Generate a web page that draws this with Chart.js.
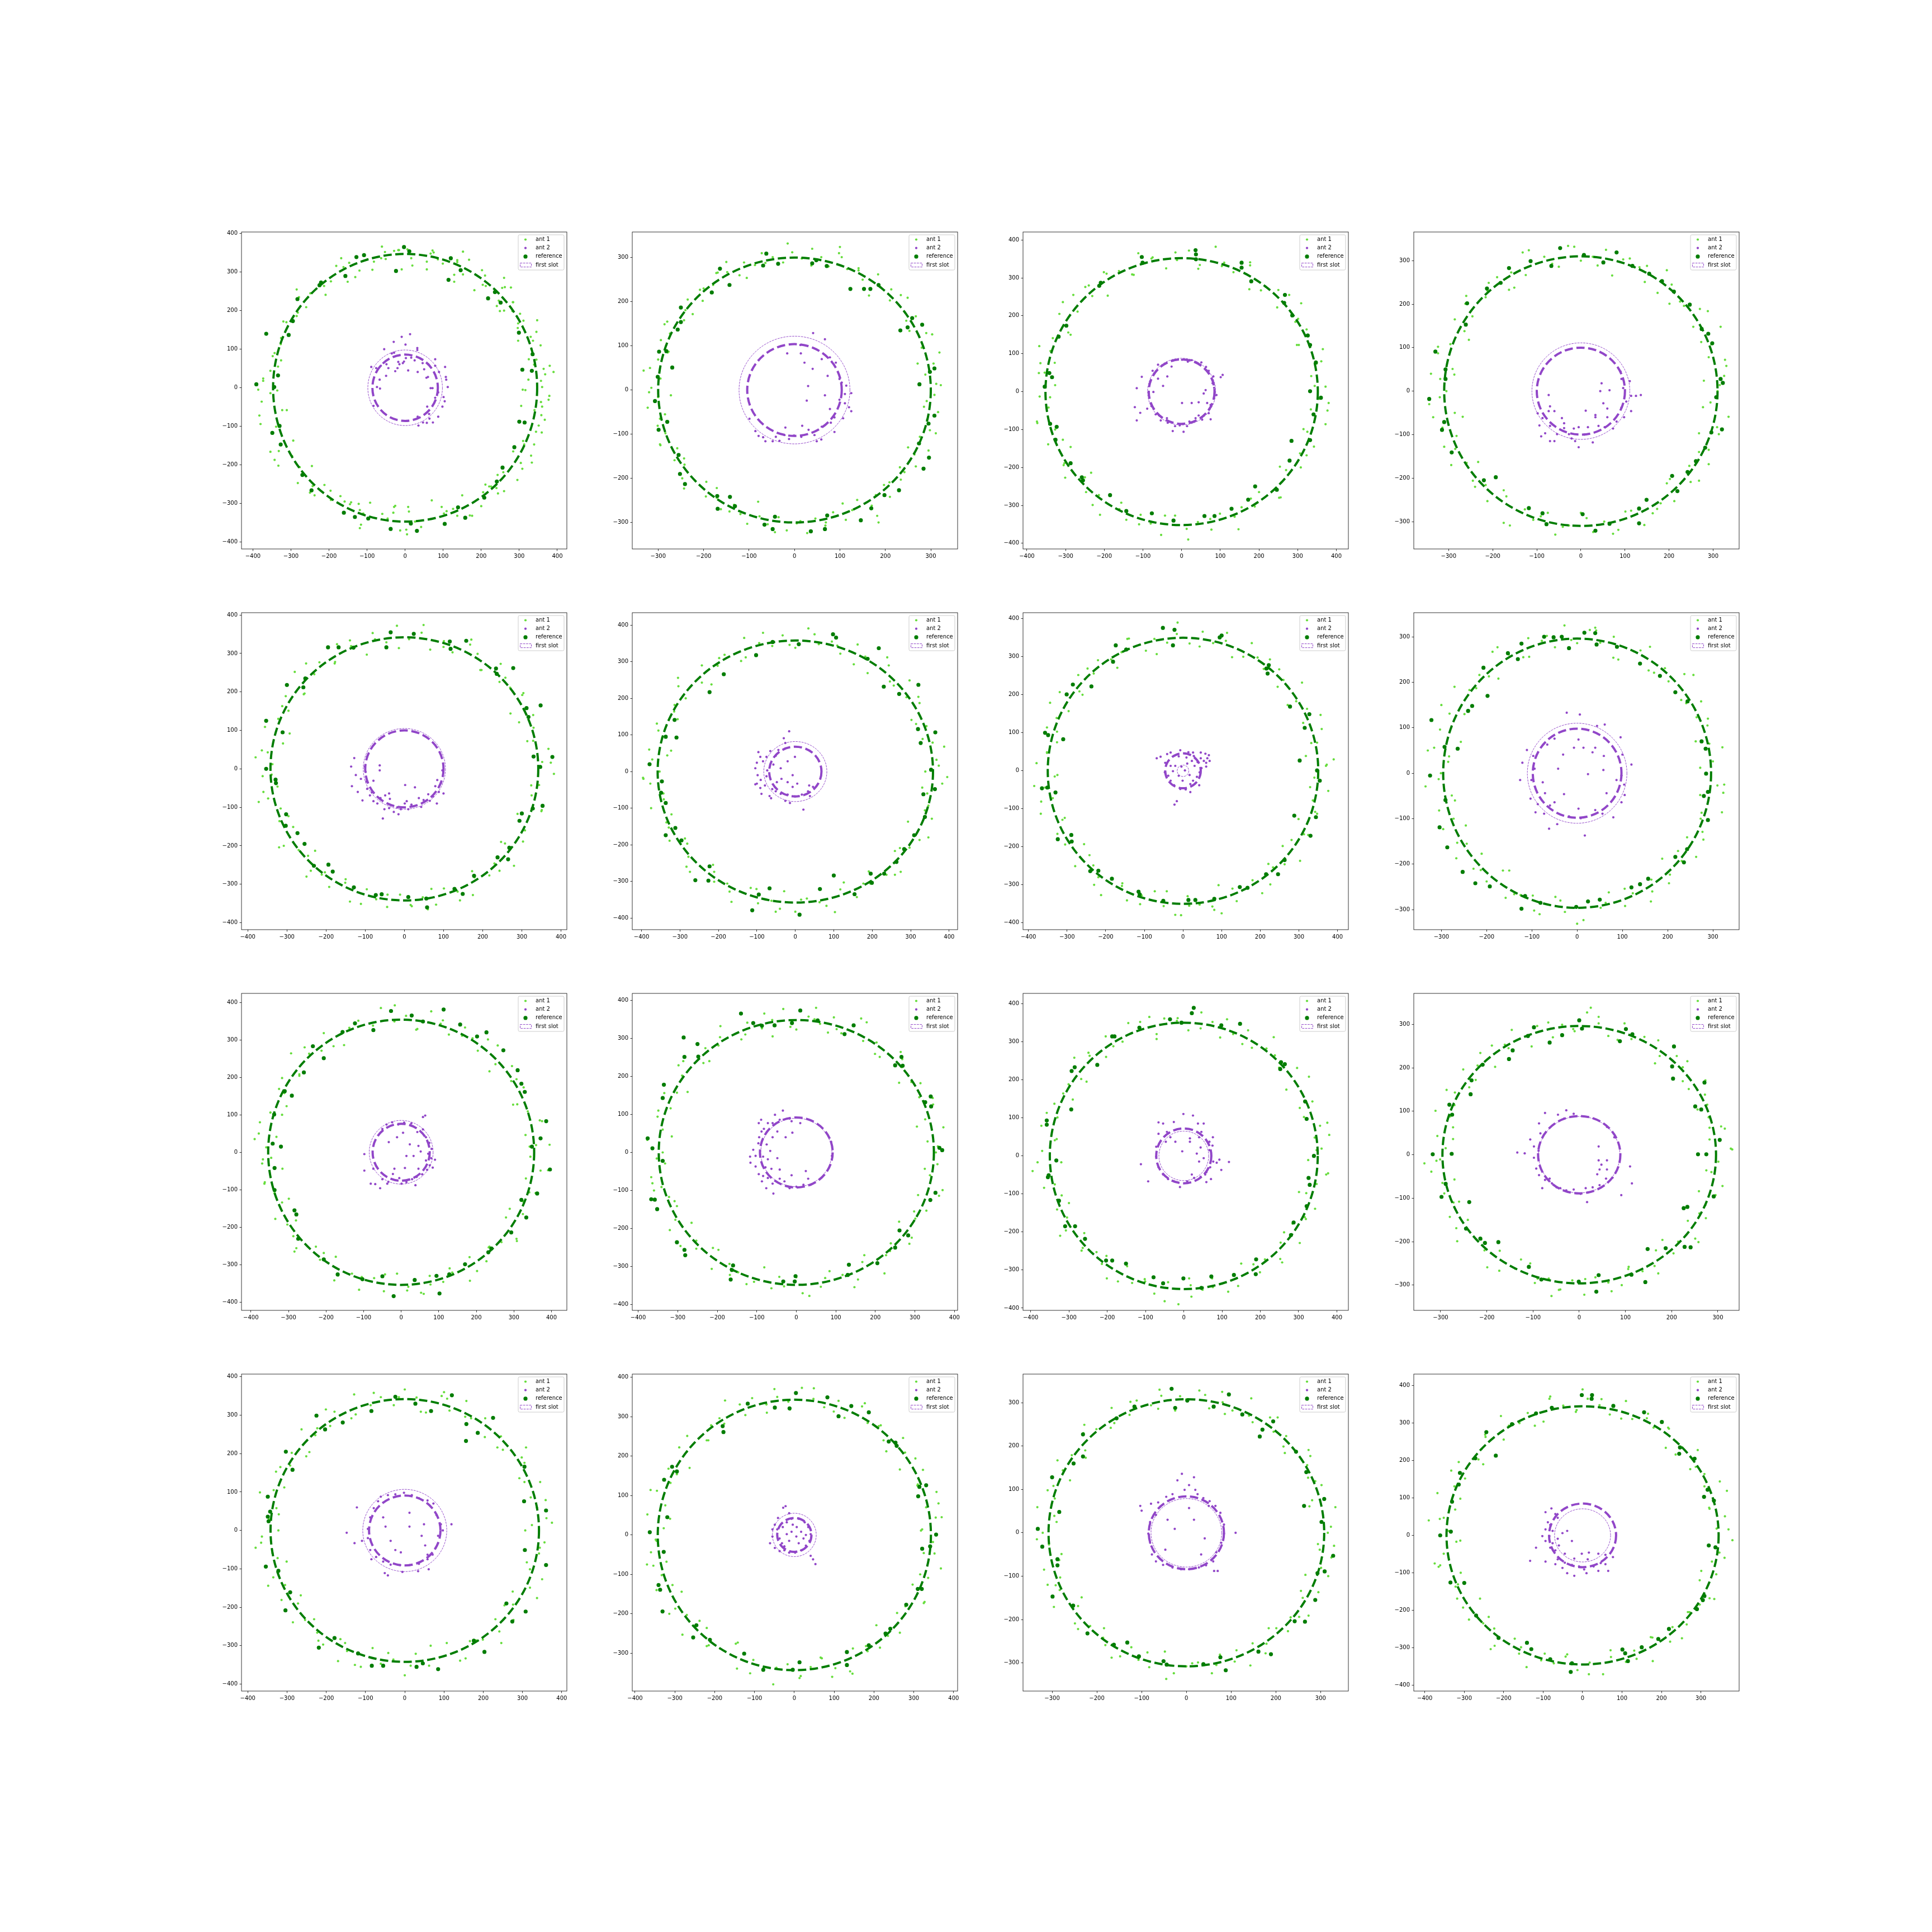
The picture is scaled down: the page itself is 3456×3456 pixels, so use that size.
<!DOCTYPE html>
<html><head><meta charset="utf-8">
<script src="https://cdn.jsdelivr.net/npm/chart.js@4.4.1/dist/chart.umd.min.js"></script>
<style>html,body{margin:0;padding:0;background:#fff}#fig{position:relative;width:3456px;height:3456px;background:#fff;overflow:hidden}canvas{position:absolute}</style>
</head><body><div id="fig"></div>
<script>
// ---------------- DATA ----------------
const seriesLabels = ['ant 1', 'ant 2', 'reference', 'first slot'];

// axis limits per subplot (row-major)
const xMin = [-430,-357,-410,-379,-416,-424,-414,-361,-425,-415,-420,-358,-416,-407,-365,-428];
const xMax = [425,359,431,359,415,422,428,358,441,408,430,346,413,410,362,397];
const yMin = [-418,-360,-415,-363,-418,-432,-418,-344,-422,-415,-406,-358,-418,-396,-365,-416];
const yMax = [404,358,421,366,406,434,416,353,424,418,427,371,407,408,366,431];
const tickStep = 100;

// fitted circles (centre at origin), radii per subplot
const bigR   = [347,300,352,310,342,358,350,296,354,348,350,296,342,343,308,345];
const innerR = [86,104,85,100,100,68,46,98,76,92,72,89,91,43,84,85];
const slotR  = [98,122,88,111,105,82,15,110,85,90,65,88,107,55,79,71];

// ---- subplot 1
const ant1_p1 = [[-61,366],[-16,357],[-29,355],[-53,352],[-63,336],[-51,334],[-82,327],[-99,333],[-86,306],[-120,304],[-131,287],[-147,324],[-162,313],[-151,275],[-168,336],[-181,316],[-195,276],[-213,264],[-209,241],[-285,255],[-279,235],[-249,245],[-260,209],[-282,195],[-285,186],[-320,172],[-312,170],[-326,129],[-327,113],[-348,82],[-343,90],[-334,55],[-326,71],[-354,44],[-373,24],[-373,18],[-386,-5],[-377,-36],[-383,-72],[-380,-94],[-354,-14],[-336,-7],[-323,-58],[-311,-58],[-339,-101],[-354,-166],[-343,-187],[-333,-202],[-332,-164],[-294,-137],[-297,-177],[-277,-206],[-282,-247],[-245,-203],[-243,-255],[-238,-279],[-250,-272],[-212,-252],[-196,-267],[-195,-291],[-170,-281],[-159,-295],[-142,-297],[-145,-302],[-122,-301],[-119,-317],[-110,-326],[-119,-364],[-116,-355],[-92,-298],[-60,-327],[-46,-339],[-31,-324],[-29,-309],[-26,-306],[-13,-370],[3,-368],[5,-380],[8,-309],[10,-321],[26,-347],[42,-361],[70,-292],[96,-309],[102,-326],[109,-320],[126,-314],[137,-332],[150,-279],[176,-332],[170,-331],[205,-271],[200,-307],[211,-251],[221,-256],[226,-256],[240,-260],[244,-274],[260,-268],[243,-226],[258,-219],[284,-165],[295,-239],[304,-195],[308,-210],[310,-138],[313,-147],[331,-176],[333,-194],[339,-147],[344,-114],[359,-116],[351,-98],[358,-71],[360,-49],[357,-37],[377,-31],[379,-21],[367,-83],[340,-58],[309,-5],[316,-6],[305,-47],[360,2],[357,18],[390,41],[380,57],[368,35],[364,49],[339,60],[345,73],[324,21],[332,100],[325,74],[336,122],[356,110],[345,145],[347,175],[330,132],[297,122],[296,155],[297,167],[311,174],[302,192],[282,199],[283,222],[260,200],[249,199],[241,212],[262,261],[260,285],[255,259],[246,226],[278,260],[284,222],[182,253],[204,267],[202,305],[210,291],[212,264],[168,332],[152,353],[137,331],[137,326],[152,294],[129,293],[129,275],[99,322],[86,333],[72,356],[75,351],[67,348],[57,327],[57,307],[19,317],[16,336],[-9,307],[-18,357],[6,359]];
const ant2_p1 = [[13,139],[-9,132],[-30,119],[1,112],[-55,100],[32,103],[32,98],[-29,91],[-35,89],[-49,61],[-64,57],[-89,54],[-76,51],[-44,51],[-26,43],[-15,61],[-6,64],[2,77],[16,78],[25,71],[8,45],[33,41],[50,48],[46,64],[61,61],[79,74],[79,57],[89,41],[105,54],[56,26],[60,28],[107,28],[108,21],[112,2],[67,-1],[72,-1],[87,-12],[101,-24],[104,-35],[98,-49],[79,-26],[58,-49],[63,-68],[87,-75],[64,-80],[73,-90],[57,-91],[47,-90],[35,-98],[33,-75],[-83,-47],[-66,-2],[-74,2],[-67,21],[-50,31],[-18,67],[-20,51],[-3,68]];
const ref_p1 = [[-3,365],[11,354],[-24,303],[-108,344],[-128,339],[120,336],[114,280],[146,305],[-157,290],[-221,273],[-283,230],[-295,173],[-306,137],[-365,140],[-334,32],[-344,2],[-391,9],[-349,-117],[-330,-99],[-327,-147],[-270,-226],[-246,-266],[-161,-324],[-132,-335],[-97,-339],[-38,-366],[15,-352],[31,-371],[104,-353],[158,-337],[139,-310],[208,-285],[241,-243],[256,-207],[287,-154],[300,-88],[314,-90],[333,44],[308,47],[299,143],[335,87],[236,248],[251,221],[218,232],[-225,266]];

// ---- subplot 2
const ant1_p2 = [[322,11],[288,35],[306,60],[319,85],[280,96],[290,129],[253,134],[267,167],[243,176],[249,209],[210,203],[213,228],[189,233],[184,262],[150,250],[141,276],[116,274],[104,301],[75,280],[59,301],[39,320],[16,298],[-5,312],[-25,289],[-48,301],[-72,310],[-87,283],[-111,289],[-121,260],[-148,267],[-172,265],[-179,238],[-200,230],[-202,202],[-235,205],[-240,181],[-243,158],[-280,155],[-274,128],[-294,113],[-279,85],[-300,69],[-318,50],[-295,26],[-315,5],[-300,-16],[-323,-40],[-285,-55],[-301,-81],[-284,-98],[-295,-125],[-258,-132],[-264,-159],[-242,-169],[-247,-200],[-219,-205],[-194,-208],[-195,-241],[-171,-244],[-162,-270],[-133,-260],[-119,-281],[-104,-303],[-77,-286],[-59,-304],[-35,-288],[-17,-318],[5,-302],[28,-324],[46,-291],[69,-300],[85,-277],[113,-294],[127,-272],[138,-249],[170,-262],[179,-238],[210,-242],[209,-209],[234,-203],[232,-175],[267,-173],[264,-146],[295,-137],[276,-106],[298,-91],[292,-67],[316,-50],[291,-25],[308,-11],[100,324],[-150,290],[-320,-5],[185,-300],
  [312,14],[271,60],[303,126],[246,157],[234,215],[164,214],[141,271],[98,310],[37,282],[-15,332],[-64,288],[-105,254],[-169,266],[-208,227],[-224,172],[-286,149],[-277,87],[-332,44],[-272,-12],[-296,-65],[-296,-123],[-243,-155],[-243,-223],[-171,-222],[-143,-275],[-80,-253],[-43,-322],[13,-297],[68,-307],[106,-257],[182,-285],[197,-215],[242,-186],[250,-130],[311,-98],[285,-38]];
const ant2_p2 = [[41,129],[13,102],[14,83],[-16,83],[22,62],[40,48],[67,115],[60,70],[78,74],[91,62],[99,25],[104,17],[114,10],[125,-7],[111,-9],[99,-22],[111,-30],[120,-39],[125,-48],[107,-64],[88,-62],[80,-74],[60,-83],[59,-112],[44,-102],[31,-90],[15,-106],[-1,-103],[-12,-111],[-22,-102],[-33,-115],[-48,-116],[-69,-107],[-79,-104],[-86,-93],[-99,-65],[-20,-85],[17,-81],[78,-43],[67,-12],[73,32],[27,-24],[30,9],[88,-95],[49,-116],[-64,-116],[-41,-106]];
const ref_p2 = [[-62,309],[-69,282],[-36,286],[-164,275],[-143,238],[-182,221],[39,287],[48,294],[71,281],[123,229],[153,229],[167,229],[185,238],[259,163],[249,142],[233,135],[281,148],[298,41],[308,49],[275,13],[308,-58],[295,-76],[274,-121],[296,-153],[284,-178],[230,-227],[198,-238],[169,-268],[146,-295],[72,-284],[67,-315],[36,-320],[-43,-287],[-48,-315],[-66,-305],[-131,-263],[-142,-242],[-170,-240],[-169,-269],[-241,-213],[-252,-190],[-255,-147],[-280,-72],[-299,-90],[-301,30],[-307,-25],[-282,88],[-269,51],[-257,137],[-250,154],[-250,187],[-298,87]];

// ---- subplot 3
const ant1_p3 = [[372,13],[335,41],[349,74],[365,112],[303,123],[323,164],[294,184],[309,233],[247,222],[250,268],[217,277],[175,270],[177,333],[134,315],[110,340],[88,382],[47,334],[19,372],[-12,347],[-40,325],[-75,354],[-112,365],[-124,308],[-162,318],[-194,311],[-191,253],[-249,276],[-257,240],[-269,211],[-316,205],[-293,156],[-333,141],[-368,120],[-328,76],[-354,50],[-327,17],[-367,-13],[-344,-42],[-374,-79],[-327,-100],[-345,-139],[-287,-146],[-303,-189],[-301,-227],[-250,-226],[-247,-265],[-214,-273],[-211,-325],[-156,-293],[-143,-338],[-106,-325],[-80,-348],[-53,-378],[-17,-327],[13,-362],[42,-344],[77,-364],[99,-322],[147,-363],[155,-305],[189,-303],[200,-265],[252,-280],[257,-240],[254,-198],[308,-200],[306,-163],[342,-145],[325,-106],[372,-86],[334,-47],[357,-19],[-280,255],[-240,280],[-365,75],[380,-30],
  [344,15],[361,80],[298,123],[301,192],[278,255],[205,267],[177,341],[104,331],[43,324],[-16,367],[-78,351],[-128,309],[-201,315],[-231,252],[-307,236],[-287,150],[-339,107],[-369,49],[-340,-15],[-373,-83],[-307,-127],[-305,-194],[-234,-214],[-230,-299],[-161,-310],[-110,-350],[-43,-327],[17,-390],[74,-336],[137,-330],[179,-282],[256,-279],[270,-207],[323,-168],[315,-99],[377,-50]];
const ant2_p3 = [[-103,39],[-116,9],[-121,-41],[-107,-56],[-116,-76],[-89,-45],[-61,34],[-37,40],[-26,66],[16,79],[38,77],[63,65],[82,40],[84,10],[90,-9],[75,-35],[70,-57],[53,-74],[36,-70],[20,-79],[-5,-89],[-17,-91],[-36,-82],[-54,-76],[-67,-60],[-78,-38],[-73,-1],[-48,15],[1,-30],[26,-30],[44,-28],[57,-5],[66,-30],[101,38],[106,44],[5,-106],[-23,-104],[14,-91],[75,-73],[44,-63],[-38,-70],[62,4],[-23,82],[1,84],[26,83],[51,77],[-61,71],[-75,55],[70,55],[80,22]];
const ref_p3 = [[-103,355],[-101,340],[36,373],[37,362],[37,349],[155,340],[155,327],[180,291],[267,255],[265,234],[286,201],[326,148],[332,123],[347,77],[332,1],[360,-16],[341,-60],[332,-128],[284,-130],[279,-182],[246,-259],[190,-250],[172,-285],[129,-309],[85,-328],[59,-328],[-21,-340],[-77,-321],[-143,-315],[-185,-273],[-255,-234],[-258,-226],[-287,-189],[-326,-127],[-323,-93],[-340,-85],[-354,13],[-335,38],[-342,49],[-318,145],[-298,174],[-209,287],[-213,279]];

// ---- subplot 4
const ant1_p4 = [[310,0],[279,24],[330,58],[290,78],[296,108],[317,148],[255,148],[270,189],[234,196],[201,201],[206,245],[195,278],[145,251],[133,285],[111,305],[71,266],[57,325],[27,309],[0,300],[-29,334],[-50,286],[-83,309],[-118,324],[-125,267],[-158,273],[-163,233],[-209,249],[-216,216],[-260,219],[-246,172],[-286,165],[-254,118],[-296,108],[-324,87],[-291,51],[-319,28],[-305,0],[-344,-30],[-286,-50],[-314,-84],[-282,-103],[-285,-133],[-294,-170],[-233,-163],[-245,-206],[-216,-216],[-212,-253],[-169,-242],[-175,-303],[-127,-272],[-108,-296],[-75,-280],[-58,-330],[-27,-309],[0,-280],[28,-324],[53,-300],[85,-319],[101,-277],[144,-308],[163,-281],[181,-258],[212,-253],[202,-202],[249,-209],[246,-172],[290,-168],[290,-135],[268,-97],[309,-83],[335,-59],[294,-26],[-340,40],[-335,-60],[325,35],[-190,262],
  [315,14],[327,72],[273,113],[288,184],[225,206],[174,226],[150,288],[96,303],[38,289],[-15,332],[-65,293],[-132,319],[-151,238],[-212,231],[-262,201],[-264,138],[-324,102],[-287,38],[-320,-14],[-268,-59],[-310,-128],[-259,-165],[-240,-220],[-175,-228],[-161,-309],[-91,-288],[-41,-312],[13,-292],[73,-328],[114,-275],[173,-271],[195,-212],[268,-206],[268,-140],[313,-99],[277,-37]];
const ant2_p4 = [[44,0],[47,18],[90,45],[92,28],[96,7],[111,23],[114,-11],[125,-11],[136,-9],[103,-24],[92,-38],[114,-46],[98,-60],[81,-70],[60,-60],[51,-28],[60,-40],[65,2],[33,-55],[40,-80],[16,-83],[8,-100],[-13,-115],[-5,-129],[-27,-99],[-38,-85],[-54,-99],[-60,-115],[-70,-115],[-81,-97],[-90,-104],[-94,-79],[-70,-80],[-87,-62],[-98,-51],[-70,-35],[-73,-9],[-60,-46],[-43,-62],[-38,-74],[-16,-86],[33,-60],[27,-118],[54,-83],[73,-86],[-5,-83],[-21,-109],[11,-45],[-73,-46]];
const ref_p4 = [[-47,329],[-67,288],[7,313],[51,296],[81,319],[117,288],[155,270],[184,253],[211,229],[247,199],[274,143],[289,132],[298,110],[317,28],[322,19],[307,-14],[320,-88],[296,-95],[282,-130],[261,-161],[242,-186],[219,-230],[207,-195],[149,-250],[132,-270],[132,-304],[65,-305],[33,-321],[4,-283],[-78,-306],[-87,-281],[-118,-269],[-193,-198],[-220,-205],[-293,-141],[-315,-89],[-310,-71],[-344,-18],[-307,28],[-307,50],[-330,91],[-261,153],[-258,202],[-213,236],[-182,249],[-163,283],[-114,299]];

// ---- subplot 5
const ant1_p5 = [[352,18],[368,52],[314,72],[330,107],[329,140],[271,144],[304,197],[270,211],[243,226],[246,273],[194,257],[187,299],[171,336],[123,303],[101,332],[66,310],[44,354],[12,337],[-19,372],[-46,329],[-81,353],[-96,297],[-136,319],[-172,324],[-178,274],[-217,277],[-230,246],[-280,252],[-257,194],[-303,189],[-296,151],[-322,130],[-356,109],[-310,66],[-349,43],[-337,12],[-362,-19],[-324,-46],[-372,-86],[-316,-103],[-319,-136],[-284,-151],[-308,-200],[-270,-211],[-228,-213],[-239,-265],[-203,-269],[-192,-307],[-151,-296],[-139,-345],[-96,-313],[-72,-339],[-44,-359],[-11,-327],[19,-357],[47,-334],[81,-353],[101,-311],[136,-319],[175,-328],[173,-266],[217,-277],[230,-246],[280,-252],[257,-194],[303,-189],[305,-155],[289,-117],[351,-107],[325,-69],[344,-42],[382,-13],[-380,30],[-360,-60],[-250,-280],[60,-365],
  [374,16],[329,73],[293,121],[301,192],[258,237],[197,257],[168,323],[100,317],[49,374],[-14,314],[-75,337],[-139,334],[-177,278],[-251,274],[-255,196],[-312,163],[-293,92],[-364,48],[-339,-15],[-348,-77],[-296,-123],[-320,-204],[-246,-226],[-211,-275],[-150,-287],[-111,-351],[-43,-327],[16,-354],[69,-312],[142,-342],[179,-282],[243,-265],[247,-190],[308,-160],[350,-110],[324,-43]];
const ant2_p5 = [[-128,28],[-136,6],[-124,-16],[-134,-45],[-119,-60],[-111,-26],[-97,-33],[-101,6],[-95,-52],[-88,-69],[-83,-61],[-69,-90],[-61,-76],[-49,-69],[-37,-78],[-39,-102],[-51,-105],[-55,-129],[-27,-112],[-18,-100],[-9,-105],[1,-90],[10,-105],[18,-93],[27,-48],[37,-76],[49,-81],[61,-66],[73,-72],[79,-45],[88,-60],[94,-36],[84,-29],[97,-4],[100,-64],[83,-90],[65,-83],[-63,9],[-63,-4],[2,-42],[-79,-31],[-39,-64],[-15,-118],[6,-84],[43,-99],[-95,32],[-99,-8],[-79,-84],[-107,-82]];
const ref_p5 = [[-35,355],[-46,316],[24,351],[116,331],[118,312],[158,333],[234,261],[236,247],[278,262],[312,158],[317,135],[348,165],[330,32],[347,5],[378,31],[353,-96],[328,-103],[300,-116],[294,-135],[268,-205],[265,-235],[238,-230],[178,-278],[149,-325],[128,-312],[56,-337],[58,-360],[10,-333],[-58,-326],[-73,-328],[-129,-308],[-183,-267],[-194,-249],[-231,-252],[-255,-195],[-273,-167],[-303,-148],[-302,-118],[-328,-37],[-329,-28],[-353,0],[-311,95],[-353,125],[-300,218],[-258,212],[-253,235],[-195,316],[-168,316],[-130,315]];

// ---- subplot 6
const ant1_p6 = [[338,0],[367,32],[387,68],[331,89],[341,124],[302,141],[323,187],[289,203],[297,249],[246,246],[243,290],[188,269],[182,314],[162,347],[117,322],[95,355],[61,348],[34,391],[0,338],[-33,372],[-60,343],[-94,351],[-133,365],[-141,302],[-184,319],[-202,289],[-243,290],[-243,243],[-305,256],[-285,200],[-314,182],[-306,143],[-360,131],[-346,93],[-323,57],[-372,33],[-353,0],[-377,-33],[-343,-60],[-375,-100],[-322,-117],[-329,-153],[-327,-189],[-281,-197],[-278,-233],[-274,-274],[-214,-255],[-211,-301],[-177,-306],[-166,-356],[-116,-318],[-97,-360],[-62,-353],[-29,-327],[0,-383],[30,-347],[63,-357],[103,-384],[117,-322],[160,-343],[177,-306],[191,-273],[237,-282],[274,-274],[259,-217],[297,-208],[323,-187],[293,-137],[355,-129],[346,-93],[343,-60],[382,-33],[-395,-20],[-380,60],[395,-15],[-40,-375],
  [373,16],[357,79],[314,130],[320,204],[256,235],[239,312],[152,293],[109,344],[50,375],[-15,346],[-84,379],[-129,312],[-198,310],[-218,238],[-304,233],[-315,164],[-356,112],[-333,44],[-396,-17],[-342,-76],[-335,-139],[-287,-183],[-283,-260],[-211,-274],[-171,-328],[-101,-321],[-51,-383],[15,-350],[81,-367],[126,-303],[195,-306],[259,-282],[272,-209],[346,-180],[337,-106],[330,-44]];
const ant2_p6 = [[-96,53],[-91,40],[-84,28],[-100,24],[-104,9],[-98,-10],[-100,-33],[-91,-45],[-88,-61],[-79,-38],[-75,-13],[-65,56],[-44,59],[-26,78],[-16,110],[-30,91],[-60,-48],[-51,-54],[-38,-61],[-20,-63],[-1,-68],[17,-63],[33,-54],[46,-42],[21,-104],[-14,-86],[-26,-80],[-67,-67],[-48,-29],[-36,-20],[-20,-29],[-7,-42],[5,-33],[-57,19],[-51,43],[-20,28],[-1,40],[-75,40],[-104,-35],[-63,-73],[38,-67],[36,-38],[-7,-10],[-38,9],[-90,-23],[-73,3]];
const ref_p6 = [[9,348],[98,375],[106,366],[217,337],[188,308],[230,232],[320,237],[270,212],[319,116],[326,78],[364,107],[353,5],[363,-48],[333,-62],[337,-124],[309,-174],[283,-212],[263,-247],[231,-279],[199,-304],[196,-279],[154,-335],[100,-284],[64,-321],[11,-391],[-67,-319],[-95,-336],[-112,-379],[-223,-259],[-226,-298],[-260,-297],[-296,-188],[-312,-154],[-337,-174],[-337,-86],[-349,-58],[-347,-27],[-379,20],[-337,95],[-309,93],[-314,141],[-223,217],[-186,266],[-102,318],[-59,354]];

// ---- subplot 7
const ant1_p7 = [[370,13],[318,39],[347,74],[359,110],[311,126],[321,163],[293,183],[308,232],[245,221],[249,267],[209,268],[193,298],[178,336],[127,299],[111,342],[78,336],[51,366],[17,335],[-14,390],[-41,337],[-74,347],[-96,316],[-140,348],[-159,312],[-170,271],[-220,291],[-231,256],[-271,252],[-268,209],[-319,207],[-296,157],[-327,139],[-352,114],[-326,75],[-352,49],[-379,20],[-325,-11],[-357,-44],[-337,-72],[-368,-113],[-306,-124],[-325,-166],[-297,-185],[-256,-193],[-279,-251],[-232,-249],[-219,-280],[-212,-327],[-157,-296],[-145,-341],[-107,-328],[-73,-317],[-50,-356],[-20,-379],[12,-330],[43,-352],[76,-357],[92,-301],[139,-343],[159,-312],[180,-288],[226,-299],[221,-245],[263,-246],[303,-237],[281,-182],[313,-167],[299,-127],[347,-113],[336,-78],[376,-53],[340,-18],[390,30],[-385,-40],[100,-375],[-5,-380],
  [372,16],[332,73],[356,147],[271,173],[260,239],[225,293],[156,300],[114,363],[43,327],[-16,360],[-68,307],[-144,347],[-186,293],[-247,269],[-260,200],[-344,179],[-326,103],[-352,47],[-332,-15],[-367,-81],[-312,-129],[-305,-194],[-242,-222],[-230,-300],[-158,-303],[-111,-351],[-42,-317],[16,-355],[81,-366],[128,-310],[205,-322],[233,-254],[258,-198],[324,-169],[342,-108],[329,-43]];
const ant2_p7 = [[-68,33],[-58,37],[-41,44],[-32,48],[-7,54],[14,49],[26,48],[46,48],[58,45],[67,41],[63,33],[54,26],[60,11],[48,7],[38,23],[23,26],[11,19],[-4,11],[-20,13],[-32,13],[-46,21],[-47,-4],[-38,-13],[-32,-26],[-23,-38],[-7,-48],[7,-49],[19,-35],[26,-26],[36,-16],[43,-4],[17,-11],[-11,-13],[5,1],[-16,-80],[-22,-89],[46,33],[28,39],[9,35],[-11,38],[30,13],[42,-38],[-26,-1],[-1,-26],[19,-56],[60,21],[69,26]];
const ref_p7 = [[-52,376],[-22,371],[-26,330],[95,351],[100,356],[216,269],[219,256],[222,278],[277,169],[315,113],[327,149],[302,27],[354,-26],[347,1],[344,-122],[288,-118],[330,-171],[263,-235],[246,-272],[215,-272],[167,-308],[147,-306],[81,-337],[32,-340],[14,-340],[-51,-342],[-112,-325],[-115,-318],[-184,-284],[-219,-263],[-240,-264],[-288,-186],[-289,-169],[-324,-180],[-330,-57],[-351,-44],[-365,-46],[-349,94],[-357,100],[-310,83],[-301,201],[-285,227],[-237,222],[-181,287],[-174,330],[-147,319]];

// ---- subplot 8
const ant1_p8 = [[286,0],[300,26],[321,57],[262,70],[288,105],[264,123],[274,158],[230,161],[257,216],[202,202],[194,231],[158,226],[161,278],[125,268],[91,250],[81,300],[51,287],[28,315],[0,286],[-28,325],[-49,277],[-78,291],[-108,297],[-119,255],[-151,261],[-187,267],[-174,208],[-216,216],[-223,187],[-271,190],[-239,138],[-282,131],[-278,101],[-257,69],[-316,56],[-285,25],[-301,0],[-335,-29],[-277,-49],[-305,-82],[-273,-100],[-246,-115],[-265,-153],[-267,-187],[-211,-177],[-213,-213],[-200,-238],[-150,-214],[-158,-274],[-125,-268],[-98,-269],[-83,-310],[-48,-272],[-27,-305],[0,-331],[24,-280],[52,-296],[70,-262],[106,-292],[123,-264],[163,-282],[164,-234],[203,-242],[188,-188],[231,-193],[263,-184],[243,-141],[277,-129],[273,-100],[320,-86],[272,-48],[310,-27],[-330,50],[-300,150],[325,-25],[40,320],
  [272,12],[292,65],[289,120],[241,154],[237,218],[170,221],[140,270],[80,254],[42,314],[-13,293],[-67,302],[-106,256],[-176,277],[-195,213],[-238,183],[-249,130],[-303,96],[-283,37],[-306,-13],[-270,-60],[-296,-123],[-244,-155],[-229,-210],[-164,-214],[-139,-266],[-95,-302],[-37,-280],[14,-323],[63,-285],[105,-254],[166,-260],[205,-223],[223,-171],[279,-146],[275,-87],[323,-43]];
const ant2_p8 = [[-23,133],[6,129],[44,104],[61,107],[96,79],[120,19],[100,41],[104,-25],[87,-15],[58,7],[59,38],[34,46],[14,56],[3,74],[-31,41],[-42,10],[-50,76],[-66,63],[-111,51],[-121,23],[-126,-15],[-101,-15],[-94,10],[-103,-56],[-92,-86],[-73,-89],[-60,-71],[-62,-122],[-44,-112],[-18,-95],[3,-78],[8,-99],[17,-137],[40,-81],[56,-89],[80,-97],[98,-64],[105,-48],[98,-5],[-29,-46],[-50,-64],[-76,-20],[-71,-44],[-87,-68],[40,56],[-7,56],[-97,38],[24,-2],[65,-44]];
const ref_p8 = [[-52,299],[-34,300],[16,309],[40,308],[-18,275],[43,283],[88,278],[139,241],[183,214],[217,178],[244,158],[275,70],[284,54],[285,-1],[289,-41],[280,-50],[289,-103],[243,-167],[236,-196],[217,-184],[157,-232],[139,-244],[120,-251],[50,-278],[24,-282],[-2,-294],[-81,-285],[-123,-298],[-115,-270],[-193,-249],[-225,-242],[-253,-217],[-287,-163],[-304,-119],[-291,-59],[-325,-5],[-293,58],[-322,117],[-264,54],[-241,137],[-232,148],[-198,170],[-207,232],[-131,251],[-153,264],[-123,285],[-73,300]];

// ---- subplot 9
const ant1_p9 = [[359,19],[331,46],[369,85],[337,109],[298,127],[326,173],[293,190],[295,230],[251,235],[257,285],[204,271],[190,304],[170,333],[127,314],[105,343],[80,376],[40,327],[13,364],[-18,349],[-54,385],[-75,325],[-114,351],[-138,326],[-152,286],[-206,318],[-212,271],[-245,263],[-293,264],[-271,204],[-317,198],[-311,158],[-305,123],[-348,106],[-376,80],[-332,41],[-359,13],[-368,-19],[-316,-44],[-364,-84],[-337,-109],[-317,-134],[-335,-178],[-280,-182],[-287,-224],[-284,-265],[-227,-252],[-216,-287],[-174,-279],[-168,-329],[-131,-324],[-112,-367],[-72,-336],[-46,-371],[-11,-324],[19,-359],[53,-375],[76,-330],[112,-346],[136,-321],[183,-343],[182,-280],[227,-291],[235,-252],[267,-240],[307,-231],[279,-174],[324,-165],[324,-131],[358,-109],[332,-70],[391,-48],[344,-12],[-390,35],[-370,-30],[395,20],[60,-378],
  [342,15],[375,83],[309,128],[307,195],[235,216],[231,301],[162,311],[111,352],[43,329],[-17,392],[-75,338],[-138,332],[-180,283],[-257,280],[-271,208],[-325,169],[-317,100],[-379,50],[-346,-15],[-363,-80],[-299,-124],[-303,-193],[-279,-256],[-206,-269],[-178,-342],[-105,-333],[-43,-326],[16,-369],[78,-353],[129,-310],[202,-317],[233,-254],[308,-237],[289,-151],[341,-107],[371,-49]];
const ant2_p9 = [[-50,62],[-39,74],[-24,80],[-8,74],[8,79],[27,77],[43,54],[58,61],[66,40],[75,25],[81,9],[72,-4],[80,-16],[66,-22],[76,-35],[69,-47],[56,-59],[41,-66],[29,-72],[14,-80],[-5,-69],[-22,-58],[-37,-84],[-56,-96],[-69,-85],[-81,-84],[-98,-5],[-98,-49],[-50,-72],[-18,-44],[10,-42],[14,-10],[33,-10],[23,21],[46,17],[52,2],[58,94],[64,98],[5,52],[-11,40],[-33,27],[-74,-44],[-34,-79],[1,-84],[38,-88],[46,-44],[90,-20],[84,-41]];
const ref_p9 = [[-27,377],[28,365],[113,381],[58,349],[157,341],[-74,326],[-156,321],[-123,344],[227,320],[202,309],[272,272],[310,219],[320,183],[329,161],[386,83],[371,37],[348,15],[396,-46],[362,-110],[320,-127],[333,-174],[293,-214],[240,-257],[232,-267],[170,-299],[128,-326],[94,-330],[102,-377],[36,-341],[-20,-384],[-50,-331],[-103,-339],[-169,-326],[-206,-286],[-274,-231],[-279,-166],[-284,-155],[-337,-101],[-337,-42],[-342,23],[-320,15],[-338,101],[-291,151],[-310,163],[-259,213],[-235,283],[-206,251]];

// ---- subplot 10
const ant1_p10 = [[353,0],[332,29],[372,66],[326,87],[346,126],[311,145],[314,182],[260,183],[267,224],[264,264],[211,251],[203,289],[169,293],[164,352],[114,313],[95,355],[60,338],[31,357],[0,323],[-33,377],[-61,348],[-87,326],[-124,341],[-139,297],[-192,332],[-197,281],[-230,274],[-235,235],[-286,240],[-289,202],[-275,159],[-334,156],[-318,116],[-351,94],[-338,60],[-377,33],[-338,0],[-332,-29],[-367,-65],[-341,-91],[-322,-117],[-302,-141],[-306,-177],[-265,-185],[-293,-246],[-253,-253],[-211,-251],[-214,-306],[-169,-293],[-147,-315],[-126,-346],[-81,-302],[-63,-357],[-31,-352],[0,-328],[33,-377],[62,-353],[84,-312],[117,-322],[156,-334],[167,-288],[223,-318],[227,-270],[239,-239],[286,-240],[260,-182],[301,-174],[329,-153],[308,-112],[370,-99],[338,-60],[357,-31],[50,380],[-360,-100],[80,315],[-60,305],
  [358,16],[305,68],[345,143],[291,185],[268,245],[199,259],[178,342],[102,324],[46,350],[-15,330],[-81,365],[-129,310],[-193,303],[-220,240],[-298,229],[-302,157],[-349,110],[-315,42],[-353,-16],[-364,-81],[-308,-128],[-320,-204],[-253,-232],[-197,-256],[-168,-322],[-107,-340],[-43,-327],[16,-370],[73,-330],[147,-354],[172,-270],[237,-259],[292,-224],[298,-155],[361,-114],[325,-43]];
const ant2_p10 = [[-88,55],[-94,40],[-96,24],[-109,7],[-117,-11],[-116,-27],[-103,-37],[-95,-57],[-84,-62],[-72,-67],[-58,-108],[-76,-94],[-42,-69],[-30,-76],[-12,-60],[0,-90],[18,-85],[24,-49],[-89,86],[-82,62],[-72,77],[-60,77],[-48,55],[-60,40],[-42,86],[-34,110],[-17,89],[-10,52],[-27,40],[-66,4],[-72,-18],[-78,-39],[-63,-43],[-103,-9],[-84,-11],[-48,-15],[-42,-45],[30,-69],[10,77],[-12,82],[-60,-82],[-75,21],[-95,77],[-54,99],[36,-85],[-17,-94],[-87,-76],[88,28],[90,-9]];
const ref_p10 = [[-140,365],[-11,340],[10,373],[54,347],[122,311],[145,334],[250,229],[269,228],[266,251],[340,147],[326,132],[341,121],[362,12],[369,6],[352,-106],[339,-125],[283,-218],[261,-205],[250,-250],[205,-291],[130,-322],[133,-295],[-2,-325],[-4,-339],[-33,-339],[-163,-309],[-166,-334],[-160,-297],[-283,-256],[-281,-270],[-302,-236],[-352,-149],[-358,-124],[-367,-123],[-338,-22],[-364,11],[-376,37],[-338,143],[-335,178],[-283,251],[-250,285],[-248,252],[-285,302],[-87,333],[-55,334],[-109,340]];

// ---- subplot 11
const ant1_p11 = [[360,19],[342,48],[375,87],[314,102],[336,143],[309,164],[268,174],[296,231],[249,232],[238,264],[235,312],[178,284],[168,330],[129,320],[95,311],[75,352],[46,377],[12,330],[-18,355],[-51,361],[-71,307],[-114,352],[-137,322],[-160,300],[-204,314],[-203,260],[-246,263],[-286,258],[-268,202],[-301,188],[-290,148],[-338,137],[-330,101],[-372,79],[-337,41],[-370,13],[-320,-17],[-352,-49],[-365,-84],[-319,-104],[-331,-141],[-305,-162],[-323,-210],[-260,-203],[-267,-249],[-228,-253],[-214,-284],[-201,-322],[-148,-290],[-135,-334],[-101,-330],[-77,-362],[-41,-332],[-14,-390],[18,-340],[49,-352],[74,-322],[116,-357],[137,-322],[150,-283],[199,-306],[212,-272],[252,-271],[253,-228],[303,-229],[284,-178],[316,-161],[343,-139],[320,-98],[347,-74],[377,-46],[325,-11],[380,55],[-395,-40],[-90,365],[20,-370],
  [347,15],[356,79],[303,126],[327,208],[252,231],[216,282],[153,294],[113,359],[44,335],[-16,362],[-71,320],[-145,349],[-184,288],[-249,271],[-254,195],[-315,164],[-358,113],[-332,44],[-382,-17],[-337,-75],[-300,-124],[-308,-196],[-264,-242],[-202,-263],[-172,-330],[-102,-324],[-50,-382],[14,-322],[76,-345],[142,-342],[182,-285],[257,-280],[262,-201],[319,-166],[301,-95],[372,-49]];
const ant2_p11 = [[-66,88],[-54,85],[-26,89],[-1,110],[24,106],[37,85],[52,85],[-44,63],[-66,58],[-72,24],[-72,-2],[-66,-30],[-54,-49],[-41,-61],[-26,-67],[-10,-82],[9,-67],[27,-58],[44,-55],[56,-49],[69,-30],[77,-15],[93,-10],[118,-16],[59,-43],[71,-61],[59,-69],[52,-6],[40,-15],[34,6],[44,22],[67,37],[76,49],[75,27],[67,15],[16,46],[-4,12],[-22,37],[-35,49],[-47,37],[-112,-22],[-93,-67],[16,37],[21,-49],[40,49],[46,63],[86,-18],[98,-37]];
const ref_p11 = [[26,389],[21,375],[-6,350],[-36,359],[98,343],[147,347],[254,246],[264,241],[252,228],[317,143],[321,97],[340,0],[326,-58],[329,-76],[321,-132],[287,-175],[280,-208],[189,-272],[188,-311],[131,-313],[46,-347],[72,-317],[-1,-322],[-54,-335],[-79,-319],[-151,-283],[-187,-275],[-203,-275],[-258,-218],[-284,-185],[-310,-185],[-326,-118],[-333,-12],[-353,-51],[-355,-56],[-358,93],[-358,82],[-294,122],[-285,233],[-293,223],[-226,239],[-187,314],[-181,314],[-116,337]];

// ---- subplot 12
const ant1_p12 = [[331,12],[282,35],[307,65],[280,86],[256,104],[272,138],[273,171],[224,169],[224,201],[211,227],[164,210],[171,263],[139,262],[113,266],[98,302],[63,273],[42,302],[17,327],[-10,284],[-37,299],[-57,270],[-91,296],[-110,272],[-146,287],[-153,245],[-189,251],[-182,202],[-220,205],[-251,196],[-238,155],[-269,143],[-270,114],[-311,101],[-273,63],[-307,43],[-289,15],[-301,-11],[-320,-39],[-270,-57],[-292,-89],[-272,-110],[-280,-143],[-241,-150],[-264,-199],[-215,-193],[-205,-220],[-172,-221],[-173,-267],[-139,-262],[-106,-250],[-96,-295],[-66,-285],[-44,-311],[-15,-289],[11,-322],[35,-282],[63,-294],[92,-300],[106,-263],[137,-268],[171,-273],[166,-220],[204,-227],[214,-200],[258,-201],[235,-152],[274,-146],[273,-116],[259,-84],[310,-72],[286,-40],[301,-16],[25,338],[-335,-20],[315,60],[-60,-325],
  [328,14],[282,62],[277,115],[237,151],[234,215],[174,227],[141,271],[83,264],[42,317],[-13,289],[-67,304],[-103,249],[-161,253],[-214,234],[-224,172],[-287,149],[-279,88],[-273,36],[-309,-14],[-296,-65],[-260,-108],[-266,-169],[-212,-195],[-199,-259],[-126,-241],[-90,-285],[-41,-310],[13,-286],[70,-314],[107,-258],[163,-256],[180,-196],[251,-193],[260,-135],[295,-93],[275,-36]];
const ant2_p12 = [[-74,96],[-87,72],[-84,49],[-106,35],[-98,19],[-88,9],[-98,-7],[-93,-32],[-87,-47],[-74,-58],[-59,-66],[-41,-77],[-28,-82],[-12,-80],[3,-90],[14,-77],[29,-75],[44,-70],[58,-55],[39,-45],[44,-34],[48,-23],[42,-13],[60,-13],[60,-34],[72,-53],[91,-93],[114,-66],[110,-27],[42,19],[-134,5],[-118,3],[-28,102],[-46,92],[17,-109],[19,-87],[-64,-55],[-49,-75],[-80,-77],[-12,94],[-33,83],[60,64],[76,40]];
const ref_p12 = [[0,309],[6,290],[-37,275],[-98,293],[-111,273],[-144,240],[-152,220],[-209,207],[-233,171],[-235,139],[-281,115],[-275,92],[-317,1],[-276,2],[-289,-67],[-298,-97],[-238,-109],[-245,-170],[-214,-193],[-204,-203],[-175,-201],[-109,-258],[-82,-287],[-1,-292],[37,-315],[42,-277],[113,-276],[143,-293],[148,-217],[187,-215],[228,-212],[241,-213],[226,-123],[234,-120],[291,-96],[275,1],[257,1],[304,34],[264,104],[251,111],[271,166],[203,175],[201,203],[205,249],[115,277],[101,289],[88,261],[-64,258]];

// ---- subplot 13
const ant1_p13 = [[307,0],[361,32],[337,59],[321,86],[345,126],[292,136],[305,176],[309,216],[250,210],[245,245],[204,243],[205,292],[169,292],[157,337],[114,312],[94,350],[54,307],[30,346],[0,367],[-28,326],[-61,347],[-87,326],[-129,354],[-136,292],[-179,309],[-190,272],[-223,266],[-263,263],[-243,204],[-288,202],[-292,169],[-328,153],[-307,112],[-369,99],[-327,58],[-346,30],[-322,0],[-366,-32],[-337,-59],[-301,-81],[-335,-122],[-305,-142],[-314,-181],[-272,-190],[-285,-239],[-231,-231],[-223,-266],[-208,-297],[-164,-283],[-147,-314],[-127,-350],[-82,-306],[-61,-347],[-29,-336],[0,-377],[28,-321],[62,-352],[89,-330],[107,-293],[155,-333],[166,-288],[199,-284],[246,-293],[231,-231],[277,-233],[276,-193],[275,-159],[319,-149],[350,-127],[311,-83],[342,-60],[356,-31],[-380,-45],[375,20],[-170,-340],[100,360],
  [324,14],[359,79],[305,126],[298,190],[236,216],[225,293],[154,296],[108,343],[41,309],[-15,347],[-79,358],[-125,302],[-201,315],[-228,248],[-251,193],[-317,165],[-334,105],[-321,42],[-364,-16],[-324,-72],[-348,-144],[-265,-169],[-254,-233],[-220,-287],[-152,-293],[-112,-355],[-42,-319],[15,-352],[66,-300],[141,-339],[182,-286],[241,-263],[254,-195],[337,-176],[319,-101],[344,-45]];
const ant2_p13 = [[-68,76],[-61,88],[-43,92],[-24,94],[-2,98],[18,92],[36,84],[58,78],[73,70],[81,40],[92,16],[97,0],[119,16],[85,-14],[79,-45],[71,-63],[58,-75],[36,-87],[12,-90],[-12,-90],[-36,-89],[-55,-81],[-73,-69],[-88,-51],[-94,-20],[-94,4],[-88,34],[-79,58],[-122,60],[-148,-6],[-128,-33],[-85,-75],[-51,-111],[-43,-117],[-6,-108],[34,-106],[61,-101],[12,46],[12,10],[-36,-27],[-24,-51],[-10,-57],[49,16],[43,-14],[52,-39],[58,-63],[-55,34],[-49,10],[-109,-27]];
const ref_p13 = [[-24,348],[27,330],[67,311],[120,352],[157,277],[225,293],[186,254],[-85,311],[-158,281],[-225,299],[-203,263],[-286,158],[-303,205],[-349,88],[-343,49],[-349,36],[-347,24],[-354,-94],[-322,-105],[-292,-161],[-304,-208],[-219,-305],[-179,-280],[-119,-320],[-84,-352],[-55,-352],[30,-355],[46,-346],[85,-361],[176,-287],[203,-316],[259,-190],[274,-237],[308,-211],[306,-51],[360,-90],[360,52],[304,76],[305,166],[156,233]];

// ---- subplot 14
const ant1_p14 = [[318,11],[355,44],[331,70],[357,109],[309,125],[323,165],[265,166],[278,209],[273,246],[224,240],[217,278],[184,284],[177,334],[126,297],[111,340],[75,324],[48,345],[19,373],[-11,318],[-43,350],[-70,331],[-106,347],[-123,304],[-174,341],[-176,282],[-209,278],[-216,240],[-269,251],[-270,211],[-263,170],[-316,168],[-311,132],[-345,112],[-324,75],[-369,52],[-328,17],[-348,-12],[-360,-44],[-321,-68],[-333,-102],[-346,-140],[-283,-144],[-299,-187],[-270,-203],[-281,-253],[-220,-236],[-220,-282],[-187,-288],[-147,-276],[-144,-339],[-103,-317],[-78,-339],[-53,-379],[-17,-328],[13,-363],[41,-335],[66,-311],[103,-338],[140,-346],[147,-288],[184,-295],[215,-286],[206,-229],[265,-248],[270,-211],[279,-181],[325,-173],[297,-126],[336,-109],[368,-85],[325,-46],[348,-18],[-370,-75],[370,45],[95,-360],[-50,370],
  [321,14],[362,80],[310,128],[304,194],[231,212],[212,276],[170,326],[99,313],[49,372],[-15,338],[-69,310],[-137,331],[-188,296],[-220,240],[-289,222],[-295,154],[-361,114],[-312,41],[-346,-15],[-354,-78],[-306,-127],[-314,-200],[-238,-218],[-215,-280],[-142,-273],[-111,-351],[-45,-337],[16,-358],[69,-313],[146,-352],[180,-282],[235,-256],[258,-198],[327,-170],[316,-100],[352,-47]];
const ant2_p14 = [[-28,69],[-22,73],[-41,43],[-49,26],[-43,14],[-55,-4],[-61,-21],[-49,-33],[-37,-41],[-25,-39],[-13,-45],[2,-45],[17,-39],[29,-27],[38,-15],[41,2],[35,20],[26,32],[11,41],[-7,41],[-19,32],[-29,20],[-19,2],[-7,8],[5,-4],[17,8],[-13,-15],[-31,-21],[11,-21],[23,-9],[47,-62],[53,-74],[41,-53],[-4,26],[-37,-9],[-55,14],[-13,55],[6,20],[29,0],[-25,-29]];
const ref_p14 = [[4,360],[83,349],[111,301],[143,327],[187,311],[-12,321],[-49,323],[-117,333],[-180,276],[-178,261],[237,237],[254,234],[257,226],[314,122],[331,126],[311,98],[356,1],[321,-35],[341,-29],[310,-137],[320,-137],[281,-177],[241,-238],[229,-250],[187,-280],[132,-297],[132,-330],[13,-323],[-4,-342],[-78,-342],[-126,-301],[-212,-266],[-246,-229],[-254,-260],[-331,-194],[-337,-139],[-341,-127],[-328,-43],[-363,7],[-319,45],[-327,140],[-295,161],[-307,173]];

// ---- subplot 15
const ant1_p15 = [[316,0],[303,26],[333,59],[281,75],[302,110],[272,127],[270,156],[273,191],[220,184],[223,223],[195,233],[187,266],[148,255],[145,310],[103,282],[81,301],[51,287],[29,328],[0,308],[-25,282],[-56,316],[-79,294],[-111,305],[-127,272],[-167,288],[-169,242],[-201,239],[-230,230],[-226,190],[-256,179],[-288,167],[-260,121],[-297,108],[-294,79],[-333,59],[-290,25],[-321,0],[-307,-27],[-279,-49],[-318,-85],[-282,-103],[-283,-132],[-296,-171],[-242,-169],[-249,-209],[-215,-215],[-184,-220],[-181,-259],[-167,-288],[-123,-264],[-107,-293],[-83,-310],[-48,-274],[-28,-324],[0,-308],[26,-299],[57,-324],[75,-281],[108,-297],[143,-306],[148,-255],[179,-256],[184,-220],[227,-227],[233,-195],[273,-191],[260,-150],[295,-137],[266,-97],[301,-81],[324,-57],[294,-26],[-60,330],[80,325],[-310,-120],[330,-30],
  [323,14],[275,61],[288,119],[277,177],[217,199],[204,266],[140,270],[86,274],[42,318],[-14,315],[-63,286],[-125,302],[-161,253],[-228,249],[-225,173],[-276,144],[-310,98],[-295,39],[-334,-15],[-284,-63],[-292,-121],[-234,-149],[-242,-222],[-186,-242],[-148,-285],[-87,-276],[-45,-337],[13,-301],[67,-305],[112,-271],[177,-278],[201,-220],[252,-194],[256,-134],[317,-100],[298,-39]];
const ant2_p15 = [[-10,136],[17,128],[-20,121],[6,110],[20,99],[-4,99],[-31,89],[-45,83],[-63,70],[-79,67],[-103,62],[-100,51],[-68,41],[-81,25],[-85,-2],[-81,-23],[-77,-50],[-68,-66],[-52,-74],[-31,-80],[-12,-84],[6,-84],[28,-80],[44,-75],[60,-66],[67,-45],[78,-23],[84,-2],[110,0],[84,19],[76,46],[65,62],[52,73],[38,80],[25,89],[6,57],[17,30],[-26,9],[-42,30],[62,-88],[70,-88],[-47,-39],[33,-50],[41,-13],[50,62]];
const ref_p15 = [[-33,332],[2,305],[61,291],[95,319],[125,273],[170,238],[194,257],[164,222],[245,187],[268,140],[263,62],[302,25],[308,78],[328,-53],[309,-89],[293,-93],[288,-155],[265,-205],[242,-204],[189,-280],[161,-274],[88,-317],[76,-287],[38,-303],[-44,-304],[-51,-296],[-106,-285],[-132,-253],[-162,-258],[-221,-232],[-253,-168],[-299,-147],[-288,-75],[-288,-61],[-322,-32],[-332,9],[-284,48],[-300,128],[-231,227],[-231,176],[-252,160],[-156,264],[-116,291],[-25,288]];

// ---- subplot 16
const ant1_p16 = [[340,18],[361,51],[321,74],[366,119],[309,131],[309,164],[273,177],[292,228],[252,235],[211,234],[217,288],[180,288],[166,325],[126,311],[110,359],[69,323],[43,348],[13,365],[-17,330],[-49,347],[-84,365],[-99,304],[-139,327],[-160,300],[-207,319],[-200,256],[-246,263],[-256,231],[-252,190],[-314,196],[-298,152],[-325,131],[-368,113],[-323,69],[-362,44],[-340,12],[-320,-17],[-352,-49],[-365,-84],[-309,-100],[-322,-137],[-318,-169],[-260,-169],[-288,-225],[-252,-235],[-224,-249],[-223,-295],[-172,-276],[-161,-316],[-142,-352],[-96,-316],[-73,-342],[-39,-318],[-13,-360],[18,-340],[52,-371],[71,-307],[110,-338],[131,-308],[178,-336],[177,-273],[222,-284],[228,-245],[264,-238],[271,-205],[297,-185],[334,-170],[297,-120],[339,-104],[328,-70],[342,-42],[380,-13],[-390,40],[-375,-75],[0,390],[360,-60],
  [370,16],[322,71],[348,144],[287,183],[236,216],[219,285],[163,313],[98,312],[48,364],[-15,335],[-82,371],[-121,293],[-187,293],[-247,269],[-264,203],[-333,173],[-310,98],[-352,47],[-310,-14],[-361,-80],[-316,-131],[-303,-193],[-238,-218],[-233,-304],[-156,-299],[-105,-334],[-43,-324],[16,-371],[72,-325],[137,-330],[173,-272],[252,-275],[267,-205],[322,-168],[301,-95],[347,-46]];
const ant2_p16 = [[-94,62],[-79,72],[-88,35],[-94,16],[-84,-2],[-76,-21],[-69,-40],[-63,-64],[-45,-73],[-27,-79],[-9,-83],[4,-91],[28,-83],[46,-74],[58,-77],[65,-95],[40,-95],[10,-101],[-21,-108],[-39,-101],[-51,-87],[-69,-77],[-94,-70],[-118,-33],[-133,-68],[-82,-33],[-63,-9],[-51,6],[-39,12],[-2,-49],[16,-46],[40,-49],[13,-64],[-21,-62],[-45,-49],[-60,-27],[-76,12],[-82,28],[-63,47],[-69,57],[77,-58],[58,-52],[-27,-15],[-94,-15],[-102,-2]];
const ref_p16 = [[-2,375],[24,375],[23,365],[78,346],[156,329],[201,303],[247,235],[284,205],[245,218],[317,122],[308,103],[333,93],[320,-27],[337,-32],[309,-162],[305,-173],[290,-197],[219,-250],[192,-277],[150,-299],[108,-315],[115,-336],[101,-305],[-27,-342],[-30,-365],[-82,-331],[-130,-304],[-141,-287],[-213,-274],[-270,-214],[-300,-127],[-335,-126],[-361,0],[-334,10],[-331,90],[-314,136],[-311,167],[-272,206],[-220,213],[-244,276],[-179,297],[-118,326],[-78,341]];

const ANT1 = [ant1_p1,ant1_p2,ant1_p3,ant1_p4,ant1_p5,ant1_p6,ant1_p7,ant1_p8,ant1_p9,ant1_p10,ant1_p11,ant1_p12,ant1_p13,ant1_p14,ant1_p15,ant1_p16];
const ANT2 = [ant2_p1,ant2_p2,ant2_p3,ant2_p4,ant2_p5,ant2_p6,ant2_p7,ant2_p8,ant2_p9,ant2_p10,ant2_p11,ant2_p12,ant2_p13,ant2_p14,ant2_p15,ant2_p16];
const REF  = [ref_p1,ref_p2,ref_p3,ref_p4,ref_p5,ref_p6,ref_p7,ref_p8,ref_p9,ref_p10,ref_p11,ref_p12,ref_p13,ref_p14,ref_p15,ref_p16];

// ---------------- LAYOUT / STYLE ----------------
const colLeft = [432, 1131, 1830, 2529];
const rowTop  = [415, 1096, 1777, 2458];
const boxW = 582, boxH = 567;
const padL = 60, padT = 20, padR = 20, padB = 40;
const C_ANT1 = '#66dd3c', C_ANT2 = '#9146c8', C_REF = '#007d00';
const FONT = 'DejaVu Sans';

Chart.defaults.font.family = FONT;
const fmt = v => (v < 0 ? '\u2212' + Math.abs(v) : String(v));
const toPts = arr => arr.map(p => ({x: p[0], y: p[1]}));
// ticks at multiples of tickStep inside the axis range
const stepTicks = scale => {
  const out = [];
  for (let v = Math.ceil(scale.min / tickStep) * tickStep; v <= scale.max; v += tickStep) out.push({value: v});
  scale.ticks = out;
};

const circlePlugin = {
  id: 'circles',
  afterDatasetsDraw(chart, args, opts) {
    const {ctx, chartArea: a, scales: {x, y}} = chart;
    ctx.save();
    ctx.beginPath(); ctx.rect(a.left, a.top, a.width, a.height); ctx.clip();
    for (const c of opts.list) {
      const cx = x.getPixelForValue(0), cy = y.getPixelForValue(0);
      const rx = Math.abs(x.getPixelForValue(c.r) - cx);
      const ry = Math.abs(y.getPixelForValue(c.r) - cy);
      ctx.beginPath();
      ctx.ellipse(cx, cy, rx, ry, 0, 0, Math.PI * 2);
      ctx.setLineDash(c.dash); ctx.lineWidth = c.lw; ctx.strokeStyle = c.color;
      ctx.stroke();
    }
    ctx.restore();
  }
};

const framePlugin = {
  id: 'frame',
  afterDraw(chart) {
    const {ctx, chartArea: a} = chart;
    ctx.save();
    ctx.strokeStyle = '#000'; ctx.lineWidth = 0.8; ctx.setLineDash([]);
    ctx.strokeRect(a.left, a.top, a.width, a.height);
    // legend
    const bw = 82, bh = 63;
    const bx = a.right - 5 - bw, by = a.top + 5;
    const r = 2.5;
    ctx.beginPath();
    ctx.moveTo(bx + r, by); ctx.lineTo(bx + bw - r, by); ctx.quadraticCurveTo(bx + bw, by, bx + bw, by + r);
    ctx.lineTo(bx + bw, by + bh - r); ctx.quadraticCurveTo(bx + bw, by + bh, bx + bw - r, by + bh);
    ctx.lineTo(bx + r, by + bh); ctx.quadraticCurveTo(bx, by + bh, bx, by + bh - r);
    ctx.lineTo(bx, by + r); ctx.quadraticCurveTo(bx, by, bx + r, by);
    ctx.closePath();
    ctx.fillStyle = 'rgba(255,255,255,0.8)'; ctx.fill();
    ctx.strokeStyle = '#cccccc'; ctx.lineWidth = 1; ctx.stroke();
    const rows = [by + 8.5, by + 23.7, by + 38.9, by + 54.1];
    const mx = bx + 13;
    ctx.fillStyle = C_ANT1; ctx.beginPath(); ctx.arc(mx, rows[0], 2.1, 0, Math.PI * 2); ctx.fill();
    ctx.fillStyle = C_ANT2; ctx.beginPath(); ctx.arc(mx, rows[1], 2.1, 0, Math.PI * 2); ctx.fill();
    ctx.fillStyle = C_REF;  ctx.beginPath(); ctx.arc(mx, rows[2], 3.6, 0, Math.PI * 2); ctx.fill();
    ctx.strokeStyle = C_ANT2; ctx.lineWidth = 1; ctx.setLineDash([3.7, 1.6]);
    ctx.strokeRect(bx + 3.5, rows[3] - 3.5, 20, 7);
    ctx.setLineDash([]);
    ctx.fillStyle = '#000'; ctx.font = '10px "' + FONT + '"';
    ctx.textAlign = 'left'; ctx.textBaseline = 'middle';
    seriesLabels.forEach((t, k) => ctx.fillText(t, bx + 31, rows[k]));
    ctx.restore();
  }
};

const fig = document.getElementById('fig');
for (let i = 0; i < 16; i++) {
  const cv = document.createElement('canvas');
  const W = padL + boxW + padR, H = padT + boxH + padB;
  cv.width = W; cv.height = H;
  cv.style.width = W + 'px'; cv.style.height = H + 'px';
  cv.style.left = (colLeft[i % 4] - padL) + 'px';
  cv.style.top = (rowTop[Math.floor(i / 4)] - padT) + 'px';
  fig.appendChild(cv);
  const axisCommon = {
    type: 'linear',
    border: {display: false},
    grid: {display: true, drawOnChartArea: false, drawTicks: true, tickLength: 3.5, tickColor: '#000', tickWidth: 0.8, lineWidth: 0.8, color: '#000'},
    ticks: {autoSkip: false, maxRotation: 0, color: '#000', font: {family: FONT, size: 10}, padding: 3.5, callback: fmt},
    afterBuildTicks: stepTicks
  };
  new Chart(cv, {
    type: 'scatter',
    data: {datasets: [
      {label: seriesLabels[2], data: toPts(REF[i]), backgroundColor: C_REF, borderColor: C_REF, pointRadius: 3.6, pointBorderWidth: 0, pointHoverRadius: 3.6},
      {label: seriesLabels[1], data: toPts(ANT2[i]), backgroundColor: C_ANT2, borderColor: C_ANT2, pointRadius: 2.1, pointBorderWidth: 0, pointHoverRadius: 2.1},
      {label: seriesLabels[0], data: toPts(ANT1[i]), backgroundColor: C_ANT1, borderColor: C_ANT1, pointRadius: 2.1, pointBorderWidth: 0, pointHoverRadius: 2.1}
    ]},
    options: {
      responsive: false, animation: false, devicePixelRatio: 1, events: [],
      layout: {padding: {left: 0, top: padT, right: padR, bottom: 0}},
      plugins: {
        legend: {display: false}, tooltip: {enabled: false},
        circles: {list: [
          {r: bigR[i], lw: 4, dash: [14.8, 6.4], color: C_REF},
          {r: innerR[i], lw: 4, dash: [14.8, 6.4], color: C_ANT2},
          {r: slotR[i], lw: 1, dash: [3.7, 1.6], color: C_ANT2}
        ]}
      },
      scales: {
        x: Object.assign({}, axisCommon, {position: 'bottom', min: xMin[i], max: xMax[i], afterFit(s) { s.height = padB; }}),
        y: Object.assign({}, axisCommon, {position: 'left', min: yMin[i], max: yMax[i], afterFit(s) { s.width = padL; }})
      }
    },
    plugins: [circlePlugin, framePlugin]
  });
}
</script>
</body></html>
